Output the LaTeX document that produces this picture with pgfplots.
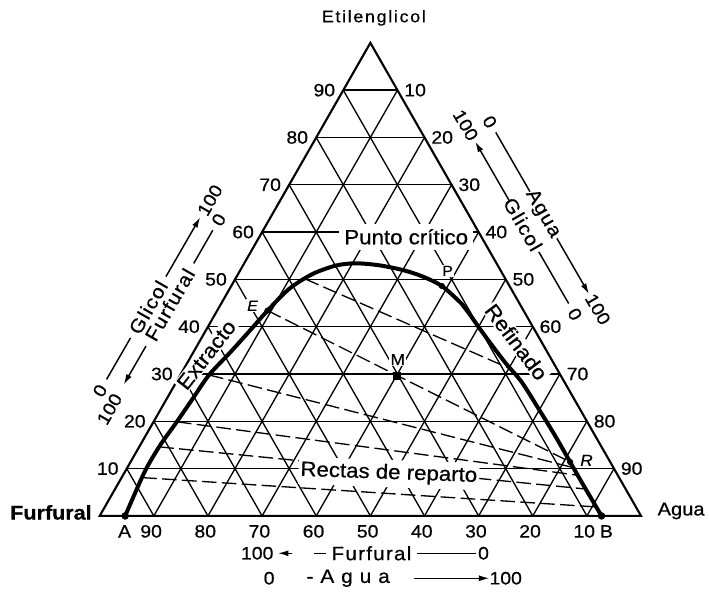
\documentclass[border=0pt]{standalone}
\usepackage{fontspec}
\setmainfont{Liberation Sans}[FakeStretch=1.08,FakeBold=0.6]
\newfontfamily\titlefont{Liberation Sans}[FakeStretch=1.08,FakeBold=0.6,LetterSpace=6]
\newfontfamily\apexfont{Liberation Sans}[FakeStretch=1.08,FakeBold=0.6,LetterSpace=10]
\usepackage{pgfplots}
\pgfplotsset{compat=1.18}
\usetikzlibrary{arrows.meta}

% ternary composition (w = water %, g = glycol %) -> plane coordinates
\pgfplotsset{table/tern/.style={x expr=\thisrow{w}+0.5*\thisrow{g}, y expr=0.8660254*\thisrow{g}}}

\begin{document}
\begin{tikzpicture}[
  gridl/.style={line width=1.0pt},
  tie/.style={line width=1.0pt, dash pattern=on 11pt off 4pt},
  num/.style={font=\fontsize{13.5}{16}\selectfont, inner sep=1pt},
  side/.style={font=\titlefont\fontsize{14.5}{17}\selectfont, inner sep=1pt},
  big/.style={font=\fontsize{15.5}{18}\selectfont, fill=white},
  pt/.style={font=\fontsize{11}{13}\selectfont, fill=white, inner sep=1pt},
  arr/.style={line width=1.1pt, -{Latex[length=8pt,width=4.5pt]}},
  rule/.style={line width=1.1pt},
]
\begin{axis}[
  scale only axis, width=531.75pt, height=444.75pt,
  xmin=-18.416, xmax=112.155, ymin=-13.78, ymax=94.45,
  hide axis, clip=false,
]
\path (axis cs:-18.416,-13.78) rectangle (axis cs:112.155,94.45);

% 10 % grid in the three directions
\pgfplotsinvokeforeach{1,...,9}{
  \draw[gridl] (axis cs:{5*#1},{8.660254*#1}) -- (axis cs:{100-5*#1},{8.660254*#1});
  \draw[gridl] (axis cs:{10*#1},0) -- (axis cs:{50+5*#1},{86.60254-8.660254*#1});
  \draw[gridl] (axis cs:{100-10*#1},0) -- (axis cs:{50-5*#1},{86.60254-8.660254*#1});
}
\draw[line width=1.6pt, line join=miter] (axis cs:0,0) -- (axis cs:100,0) -- (axis cs:50,86.60254) -- cycle;

% scale numbers on the three sides
\pgfplotsinvokeforeach{10,20,...,90}{
  \node[num, anchor=east, xshift=-5pt] at (axis cs:{#1/2},{0.8660254*#1}) {#1};
  \node[num, anchor=west, xshift=4pt] at (axis cs:{50+#1/2},{86.60254-0.8660254*#1}) {#1};
  \node[num] at (axis cs:{99.5-#1},-2.83) {#1};
}
\node[num] at (axis cs:4.6,-2.83) {A};
\node[num] at (axis cs:93.6,-2.83) {B};

% vertex names
\node[font=\apexfont\fontsize{12.5}{15}\selectfont] at (axis cs:50.64,91.17) {Etilenglicol};
\node[font=\bfseries\fontsize{15}{18}\selectfont] at (axis cs:-9.0,0.64) {Furfural};
\node[font=\fontsize{14}{17}\selectfont] at (axis cs:107.4,0.91) {Agua};

% tie lines
\addplot[tie] table[tern] {
w g
12.9 50.1
60.3 31.1
};
\addplot[tie] table[tern] {
w g
9.3 43.4
81.2 11.4
};
\addplot[tie] table[tern] {
w g
5.3 29.8
82.4 10.2
};
\addplot[tie] table[tern] {
w g
4.3 19.9
84.0 8.6
};
\addplot[tie] table[tern] {
w g
3.7 14.6
86.8 5.7
};
\addplot[tie] table[tern] {
w g
3.8 8.1
90.8 1.9
};

% labels on white ground
\node[big, inner xsep=4pt, inner ysep=4pt] at (axis cs:56.63,51.1) {Punto crítico};
\node[big, rotate=-2, inner xsep=1.5pt, inner ysep=3pt] at (axis cs:53.41,7.76) {Rectas de reparto};
\node[big, rotate=52, inner sep=1pt] at (axis cs:19.71,29.48) {Extracto};
\node[big, rotate=-53, inner sep=1pt] at (axis cs:76.98,31.85) {Refinado};

% solubility (binodal) curve
\addplot[line width=3pt, smooth, tension=0.5, line cap=round, line join=round] table[tern] {
w g
4.7 0
4.1 5.0
3.6 10.0
3.7 15.0
4.3 19.9
4.8 24.9
5.3 29.8
6.9 34.8
8.3 39.7
9.3 43.4
11.0 48.0
13.7 51.1
17.1 52.9
20.5 53.4
25.0 53.0
29.9 52.0
34.1 50.7
38.9 48.6
44.5 44.8
46.6 43.0
52.1 38.1
58.6 32.5
63.8 28.3
69.7 22.7
75.6 17.0
81.2 11.4
85.4 7.2
92.7 0
};

% marked compositions
\addplot[only marks, mark=*, mark size=2.6pt] table[tern] {
w g
4.7 0
92.7 0
};
\addplot[only marks, mark=*, mark size=2.1pt] table[tern] {
w g
9.3 43.4
38.9 48.6
81.2 11.4
};
\addplot[only marks, mark=square*, mark size=2.6pt] table[tern] {
w g
40.0 29.7
};
\node[pt, font=\itshape\fontsize{11}{13}\selectfont] at (axis cs:28.23,38.47) {E};
\node[pt] at (axis cs:64.27,44.86) {P};
\node[pt, font=\fontsize{12}{14}\selectfont] at (axis cs:55.06,28.62) {M};
\node[pt, font=\itshape\fontsize{12}{14}\selectfont] at (axis cs:89.93,10.18) {R};

% reading directions under the base
\node[num] at (axis cs:29.1,-6.84) {100};
\draw[arr] (axis cs:35.6,-6.84) -- (axis cs:32.9,-6.84);
\draw[rule] (axis cs:39.6,-6.84) -- (axis cs:41.8,-6.84);
\node[side] at (axis cs:50.2,-6.84) {Furfural};
\draw[rule] (axis cs:58.6,-6.84) -- (axis cs:69.5,-6.84);
\node[num] at (axis cs:70.9,-6.84) {0};
\node[num] at (axis cs:31.3,-11.41) {0};
\node[side] at (axis cs:45.9,-11.41) {- A g u a};
\draw[arr] (axis cs:58.0,-11.41) -- (axis cs:72.0,-11.41);
\node[num] at (axis cs:75.0,-11.41) {100};

% reading directions along the left side
\node[num, rotate=60] at (axis cs:0.07,22.92) {0};
\draw[rule] (axis cs:1.27,24.99) -- (axis cs:5.69,32.58);
\node[side, rotate=60] at (axis cs:8.96,38.18) {Glicol};
\draw[arr] (axis cs:12.23,43.80) -- (axis cs:18.58,54.70);
\node[num, rotate=60] at (axis cs:20.38,57.78) {100};
\node[num, rotate=60] at (axis cs:1.82,19.55) {100};
\draw[arr] (axis cs:8.54,31.08) -- (axis cs:4.42,24.02);
\node[side, rotate=60] at (axis cs:12.95,38.66) {Furfural};
\draw[rule] (axis cs:17.37,46.23) -- (axis cs:20.90,52.31);
\node[num, rotate=60] at (axis cs:22.01,54.21) {0};

% reading directions along the right side
\node[num, rotate=-60] at (axis cs:72.04,72.13) {0};
\draw[rule] (axis cs:73.16,70.21) -- (axis cs:79.47,59.37);
\node[side, rotate=-60] at (axis cs:81.84,55.30) {Agua};
\draw[arr] (axis cs:84.46,50.81) -- (axis cs:90.39,40.63);
\node[num, rotate=-60] at (axis cs:92.02,37.84) {100};
\node[num, rotate=-60] at (axis cs:67.60,71.53) {100};
\draw[arr] (axis cs:75.60,57.80) -- (axis cs:69.36,68.53);
\node[side, rotate=-60] at (axis cs:78.18,53.39) {Glicol};
\draw[rule] (axis cs:81.12,48.33) -- (axis cs:86.63,38.88);
\node[num, rotate=-60] at (axis cs:87.77,36.92) {0};
\end{axis}
\end{tikzpicture}
\end{document}
